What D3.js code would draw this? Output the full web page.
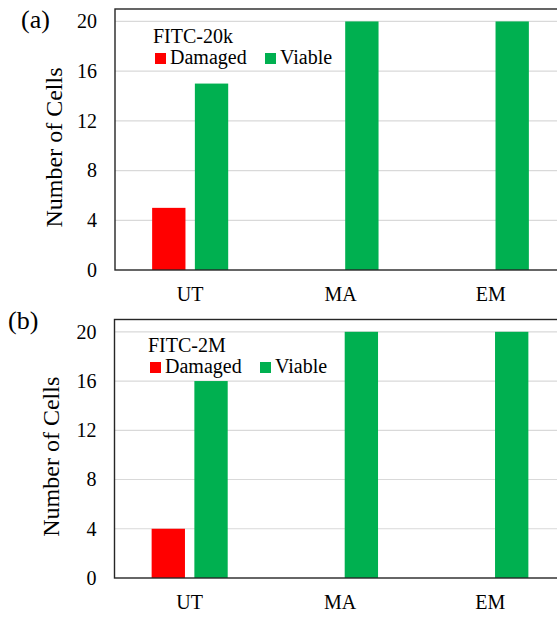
<!DOCTYPE html>
<html>
<head>
<meta charset="utf-8">
<script src="https://cdn.jsdelivr.net/npm/d3@7"></script>
<style>
body { margin: 0; background: #fff; }
text { font-family: "Liberation Serif", "Times New Roman", serif; fill: #000; }
</style>
</head>
<body>
<div class="container"></div>
<script>
const ht = 617
const wd = 557

// data
const categories = ["UT", "MA", "EM"]
const seriesNames = ["Damaged", "Viable"]
const seriesColors = ["#ff0000", "#00b050"]
const yTicks = [0, 4, 8, 12, 16, 20]

const damagedA = [5, 0, 0]
const viableA = [15, 20, 20]
const damagedB = [4, 0, 0]
const viableB = [16, 20, 20]

const panelLabels = ["(a)", "(b)"]
const panelTitles = ["FITC-20k", "FITC-2M"]

const svgC = d3.select(".container")
.append("svg")
.attr("height", ht)
.attr("width", wd)

// layout for each panel (pixel boxes, not data)
const boxes = [
    {left: 115, right: 566, top: 9, bottom: 270, legX: 153, legY: 43, yTitleX: 62, labelX: 21, labelY: 28},
    {left: 114.5, right: 565.5, top: 319.5, bottom: 578, legX: 148, legY: 352, yTitleX: 59, labelX: 8, labelY: 329}
]

drawPanel(boxes[0], [damagedA, viableA], panelLabels[0], panelTitles[0])
drawPanel(boxes[1], [damagedB, viableB], panelLabels[1], panelTitles[1])

function drawPanel(b, series, label, title) {

    const g = svgC.append("g")

    const x0 = d3.scaleBand()
    .domain(categories)
    .range([b.left, b.right])

    const x1 = d3.scaleBand()
    .domain(seriesNames)
    .range([x0.bandwidth()*0.247, x0.bandwidth()*0.753])
    .paddingInner(0.22)

    const y = d3.scaleLinear()
    .domain([0, 21])
    .range([b.bottom, b.top])

    // gridlines
    g.selectAll(".grid")
    .data(yTicks.filter(d => d > 0))
    .enter()
    .append("line")
    .attr("x1", b.left)
    .attr("x2", b.right)
    .attr("y1", d => y(d))
    .attr("y2", d => y(d))
    .style("stroke", "#d9d9d9")
    .style("stroke-width", "1.2px")

    // bars
    let rows = []
    categories.forEach((c, i) => {
        seriesNames.forEach((s, j) => {
            rows.push({cat: c, ser: s, val: series[j][i], col: seriesColors[j]})
        })
    })

    g.selectAll(".bar")
    .data(rows.filter(d => d.val > 0))
    .enter()
    .append("rect")
    .attr("x", d => x0(d.cat) + x1(d.ser))
    .attr("width", x1.bandwidth())
    .attr("y", d => y(d.val))
    .attr("height", d => y(0) - y(d.val))
    .attr("fill", d => d.col)

    // plot border
    g.append("rect")
    .attr("x", b.left)
    .attr("y", b.top)
    .attr("width", b.right - b.left)
    .attr("height", b.bottom - b.top)
    .attr("fill", "none")
    .style("stroke", "#262626")
    .style("stroke-width", "1.4px")

    // y axis labels
    const yAxis = d3.axisLeft(y)
    .tickValues(yTicks)
    .tickSize(0)
    .tickPadding(18)

    const ya = g.append("g")
    .attr("transform", `translate(${b.left},0)`)
    .call(yAxis)
    ya.select(".domain").remove()
    ya.selectAll("text")
    .style("font-size", "20px")
    .style("font-family", "Liberation Serif")

    // x axis labels
    const xAxis = d3.axisBottom(x0)
    .tickSize(0)
    .tickPadding(17)

    const xa = g.append("g")
    .attr("transform", `translate(0,${b.bottom})`)
    .call(xAxis)
    xa.select(".domain").remove()
    xa.selectAll("text")
    .style("font-size", "20px")
    .style("font-family", "Liberation Serif")

    // y title
    g.append("text")
    .attr("transform", `translate(${b.yTitleX},${(b.top + b.bottom)/2 + 8}) rotate(-90)`)
    .attr("text-anchor", "middle")
    .style("font-size", "24px")
    .text("Number of Cells")

    // panel label
    g.append("text")
    .attr("x", b.labelX)
    .attr("y", b.labelY)
    .style("font-size", "26px")
    .text(label)

    // legend
    g.append("text")
    .attr("x", b.legX)
    .attr("y", b.legY)
    .style("font-size", "20px")
    .text(title)

    const legOffsets = [0, 110]
    seriesNames.forEach((s, j) => {
        g.append("rect")
        .attr("x", b.legX + 2 + legOffsets[j])
        .attr("y", b.legY + 10)
        .attr("width", 11)
        .attr("height", 11)
        .attr("fill", seriesColors[j])
        g.append("text")
        .attr("x", b.legX + 17 + legOffsets[j])
        .attr("y", b.legY + 21)
        .style("font-size", "20px")
        .text(s)
    })

}
</script>
</body>
</html>
